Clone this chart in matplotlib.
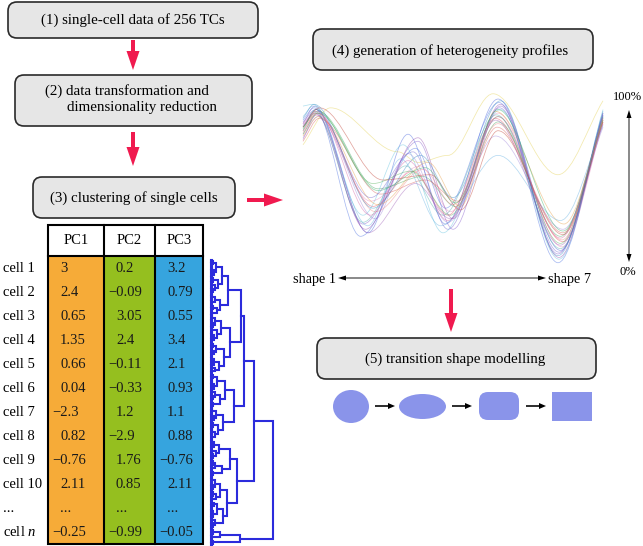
import matplotlib
matplotlib.use("Agg")
import matplotlib.pyplot as plt
from matplotlib.patches import FancyBboxPatch, FancyArrow, Ellipse, Rectangle, PathPatch
from matplotlib.path import Path

plt.rcParams['font.family'] = ['Liberation Serif', 'DejaVu Serif']
plt.rcParams['mathtext.fontset'] = 'custom'
plt.rcParams['mathtext.rm'] = 'Liberation Serif'
plt.rcParams['mathtext.it'] = 'Liberation Serif:italic'

# ---------------- data ----------------
row_labels = ['cell 1', 'cell 2', 'cell 3', 'cell 4', 'cell 5', 'cell 6', 'cell 7',
              'cell 8', 'cell 9', 'cell 10', '...', 'cell $n$']
pc_names = ['PC1', 'PC2', 'PC3']
pc1 = [3, 2.4, 0.65, 1.35, 0.66, 0.04, -2.3, 0.82, -0.76, 2.11, None, -0.25]
pc2 = [0.2, -0.09, 3.05, 2.4, -0.11, -0.33, 1.2, -2.9, 1.76, 0.85, None, -0.99]
pc3 = [3.2, 0.79, 0.55, 3.4, 2.1, 0.93, 1.1, 0.88, -0.76, 2.11, None, -0.05]
pc_colors = ['#f6ab38', '#95bf1f', '#36a4de']

# heterogeneity profiles: value (%) at each turning point along shape 1..7
# turning points: start, peak, trough, bump, trough, peak, trough, end
profiles = [
    [80, 90, 20, 76, 25, 96, 10, 88],
    [82, 92, 25, 72, 22, 92, 8, 86],
    [78, 88, 35, 55, 30, 85, 15, 84],
    [80, 89, 45, 52, 35, 83, 18, 85],
    [70, 91, 66, 60, 64, 99, 53, 95],
    [92, 93, 30, 70, 20, 90, 5, 90],
    [76, 87, 38, 58, 32, 88, 12, 82],
    [74, 86, 28, 65, 26, 75, 22, 80],
    [84, 91, 18, 68, 34, 94, 3, 87],
    [72, 85, 42, 50, 38, 80, 20, 83],
    [79, 90, 48, 55, 30, 86, 14, 86],
    [81, 88, 22, 74, 28, 93, 6, 88],
    [75, 86, 36, 60, 35, 89, 25, 84],
    [86, 92, 24, 62, 24, 64, 27, 81],
    [77, 88, 32, 56, 36, 82, 16, 85],
    [83, 90, 40, 66, 22, 91, 9, 87],
    [78, 89, 26, 58, 30, 87, 11, 86],
    [80, 91, 50, 53, 33, 78, 19, 83],
    [73, 87, 20, 48, 28, 84, 13, 82],
    [85, 93, 34, 64, 40, 95, 7, 89],
    [76, 88, 44, 57, 37, 90, 21, 84],
    [82, 89, 30, 61, 27, 86, 17, 85],
]
# where (on the shape axis) each profile's turning points sit
peak1_at = [1.26, 1.24, 1.28, 1.3, 1.55, 1.2, 1.27, 1.3, 1.22, 1.32, 1.26, 1.24,
            1.3, 1.2, 1.28, 1.25, 1.23, 1.33, 1.27, 1.22, 1.3, 1.26]
trough1_at = [2.3, 2.2, 2.4, 2.5, 2.9, 2.2, 2.35, 2.45, 2.15, 2.55, 2.4, 2.25,
              2.5, 2.3, 2.45, 2.35, 2.2, 2.6, 2.3, 2.4, 2.5, 2.35]
bump_at = [3.1, 3.3, 3.2, 3.4, 3.3, 3.0, 3.35, 3.1, 3.25, 3.45, 3.15, 3.3,
           3.5, 2.95, 3.4, 3.2, 3.05, 3.55, 3.25, 3.35, 3.45, 3.1]
trough2_at = [3.85, 4.0, 3.9, 4.05, 3.9, 3.8, 3.95, 3.9, 3.85, 4.1, 3.95, 4.0,
              4.15, 3.75, 4.0, 3.9, 3.8, 4.15, 3.95, 4.0, 4.05, 3.9]
peak2_at = [4.9, 4.95, 4.85, 4.9, 4.8, 4.95, 4.9, 4.85, 4.92, 4.88, 4.9, 4.95,
            4.85, 4.9, 4.9, 4.93, 4.87, 4.9, 4.85, 4.95, 4.9, 4.9]
trough3_at = [6.15, 6.1, 6.2, 6.15, 6.1, 6.12, 6.18, 6.2, 6.1, 6.2, 6.15, 6.12,
              6.22, 6.15, 6.18, 6.12, 6.15, 6.2, 6.15, 6.1, 6.2, 6.15]
profile_colors = ['#3b5bdb', '#7b4fc9', '#e0455a', '#3aa055', '#e3cf4a', '#5bc0de',
                  '#e57fb8', '#9a7fd8', '#4169e1', '#d9534f', '#4caf50', '#8e44ad',
                  '#e59a3c', '#5dade2', '#f08080', '#6a5acd', '#48a9a6', '#c0392b',
                  '#9b59b6', '#2e86c1', '#27ae60', '#d35ba0']

# dendrogram: (merge height, upper, lower); every terminal L is a tight pair of cells
L = (0.8, 0, 0)
c1 = (17, (11, (5, (2, L, L), (3, (1, L, L), L)), (7, (2, L, L), (4, L, (1.5, L, L)))),
      (9, (4, (1, L, L), L), (6, (2, L, L), L)))
c2 = (19, (10, (4, (1, L, L), (2, L, L)), (6, L, (3, (1, L, L), L))),
      (13, (5, (2, L, L), (3, L, L)), (8, (3, (1, L, L), L), (4, L, L))))
c3 = (23, (14, (6, (2, L, L), (3, (1, L, L), L)), (9, (4, L, (2, L, L)), (2, L, L))),
      (12, (5, (1, L, L), (3, L, L)), (7, (2, L, L), (4, (1, L, L), L))))
c4 = (19, (8, (3, (1, L, L), L), (5, L, (2, L, L))), (11, (4, (2, L, L), L), (2, L, L)))
c5 = (16, (9, (4, (1, L, L), (2, L, L)), (5, (2, L, L), L)),
      (12, (6, (3, L, L), (2, (1, L, L), L)), (4, L, (2, L, L))))
c6 = (29, (9, (2, L, L), L), (2, L, L))
tree = (62, (43, (33, (30, c1, c2), c3), (26, c4, c5)), c6)

RED = '#f01a4f'
BOX_FILL = '#e6e6e6'
SHAPE = '#8a94ea'
DENDRO = '#2b2bdc'
W, H = 643, 546

fig = plt.figure(figsize=(W / 100, H / 100), dpi=100)
ax = fig.add_axes([0, 0, 1, 1])
ax.set_xlim(0, W)
ax.set_ylim(H, 0)
ax.axis('off')


def px_axes(x0, y0, x1, y1):
    return fig.add_axes([x0 / W, (H - y1) / H, (x1 - x0) / W, (y1 - y0) / H])


def box(x, y, w, h):
    ax.add_patch(FancyBboxPatch((x, y), w, h, boxstyle='round,pad=0,rounding_size=9',
                                fc=BOX_FILL, ec='#2a2a2a', lw=1.2))


def red_arrow(x, y, dx, dy):
    ax.add_patch(FancyArrow(x, y, dx, dy, width=4, head_width=13, head_length=19,
                            length_includes_head=True, color=RED, lw=0))


fs = 10.8
# flow boxes
box(8, 2, 250, 36)
ax.text(133, 20, '(1) single-cell data of 256 TCs', ha='center', va='center', fontsize=fs)
box(15, 75, 237, 51)
ax.text(127, 91, '(2) data transformation and', ha='center', va='center', fontsize=fs)
ax.text(142, 108, 'dimensionality reduction', ha='center', va='center', fontsize=fs)
box(33, 177, 202, 41)
ax.text(134, 198, '(3) clustering of single cells', ha='center', va='center', fontsize=fs)
box(313, 29, 280, 41)
ax.text(450, 51, '(4) generation of heterogeneity profiles', ha='center', va='center', fontsize=fs)
box(317, 338, 279, 41)
ax.text(455, 359, '(5) transition shape modelling', ha='center', va='center', fontsize=fs)

red_arrow(133, 40, 0, 30)
red_arrow(133, 132, 0, 34)
red_arrow(247, 200, 36, 0)
red_arrow(451, 289, 0, 43)

# axis annotations of the profile plot
for (xa, ya, xb, yb) in [(442, 278, 338, 278), (442, 278, 546, 278),
                         (629, 186, 629, 110), (629, 186, 629, 262)]:
    ax.add_patch(FancyArrow(xa, ya, xb - xa, yb - ya, width=0.9, head_width=5,
                            head_length=8, length_includes_head=True, color='black', lw=0))
ax.text(336, 279, 'shape 1', ha='right', va='center', fontsize=10.3)
ax.text(548, 279, 'shape 7', ha='left', va='center', fontsize=10.3)
ax.text(627, 97, '100%', ha='center', va='center', fontsize=9)
ax.text(628, 272, '0%', ha='center', va='center', fontsize=9)

# transition shapes
ax.add_patch(Ellipse((351, 406.5), 36, 33, color=SHAPE, lw=0))
ax.add_patch(Ellipse((422.5, 406.5), 47, 25, color=SHAPE, lw=0))
ax.add_patch(FancyBboxPatch((479, 392), 40, 28, boxstyle='round,pad=0,rounding_size=9',
                            color=SHAPE, lw=0))
ax.add_patch(Rectangle((552, 392), 40, 29, color=SHAPE, lw=0))
for xa in [375, 452, 526]:
    ax.add_patch(FancyArrow(xa, 406, 20, 0, width=1.6, head_width=6, head_length=7,
                            length_includes_head=True, color='black', lw=0))

# ---------------- table ----------------
tab = px_axes(48, 225, 203, 544)
col_edges = [0, 56, 107, 155]
head = 31 / 24
n_rows = len(row_labels)
tab.set_xlim(0, 155)
tab.set_ylim(n_rows, -head)
tab.axis('off')
widths = [col_edges[i + 1] - col_edges[i] for i in range(3)]
tab.bar(col_edges[:3], [n_rows] * 3, width=widths, bottom=0, align='edge', color=pc_colors)
tab.add_patch(Rectangle((0, -head), 155, n_rows + head, fill=False, lw=1.5, ec='black',
                        clip_on=False))
tab.plot([0, 155], [0, 0], color='black', lw=1.5, clip_on=False)
for xe in col_edges[1:3]:
    tab.plot([xe, xe], [-head, n_rows], color='black', lw=1.5, clip_on=False)
for j, (name, vals) in enumerate(zip(pc_names, [pc1, pc2, pc3])):
    left = col_edges[j]
    tab.text((left + col_edges[j + 1]) / 2, -head / 2, name, ha='center', va='center',
             fontsize=10.5)
    for i, v in enumerate(vals):
        if v is None:
            s, x = '...', left + 12
        else:
            s = '{:g}'.format(v).replace('-', '\u2212')
            x = left + 12 - (8 if v < 0 else 0)
        tab.text(x, i + 0.5, s, ha='left', va='center', fontsize=10.5, color='#1a1a1a')
for i, lab in enumerate(row_labels):
    tab.text(-45, i + 0.5, lab, ha='left', va='center', fontsize=10.5, clip_on=False)

# ---------------- dendrogram ----------------
def count_leaves(node):
    if node == 0:
        return 1
    return count_leaves(node[1]) + count_leaves(node[2])


n_leaves = count_leaves(tree)
den = px_axes(211, 260, 273, 545)
den.set_xlim(0, 62)
den.set_ylim(n_leaves - 1, 0)
den.axis('off')


def draw_tree(node, pos):
    if node == 0:
        y = pos[0]
        pos[0] += 1
        return y, 0
    h, a, b = node
    ya, ha_ = draw_tree(a, pos)
    yb, hb = draw_tree(b, pos)
    den.plot([ha_, h, h, hb], [ya, ya, yb, yb], color=DENDRO, lw=1.5, clip_on=False,
             solid_joinstyle='miter')
    return (ya + yb) / 2, h


draw_tree(tree, [0])

# ---------------- heterogeneity profiles ----------------
prof = px_axes(303, 92, 603, 268)
prof.set_xlim(1, 7)
prof.set_ylim(0, 100)
prof.axis('off')


def smooth_path(xs, ys):
    # cubic segments with flat tangents at the turning points
    n = len(xs)
    slopes = [0.0] * n
    slopes[0] = (ys[1] - ys[0]) / (xs[1] - xs[0])
    slopes[-1] = (ys[-1] - ys[-2]) / (xs[-1] - xs[-2])
    verts = [(xs[0], ys[0])]
    codes = [Path.MOVETO]
    for i in range(n - 1):
        d = (xs[i + 1] - xs[i]) / 3
        verts += [(xs[i] + d, ys[i] + slopes[i] * d),
                  (xs[i + 1] - d, ys[i + 1] - slopes[i + 1] * d),
                  (xs[i + 1], ys[i + 1])]
        codes += [Path.CURVE4] * 3
    return Path(verts, codes)


for k, (vals, c) in enumerate(zip(profiles, profile_colors)):
    xs = [1.0, peak1_at[k], trough1_at[k], bump_at[k], trough2_at[k], peak2_at[k],
          trough3_at[k], 7.0]
    prof.add_patch(PathPatch(smooth_path(xs, vals), fill=False, ec=c, lw=0.55,
                             alpha=0.45, clip_on=False))

fig.savefig('out.png', dpi=100)
